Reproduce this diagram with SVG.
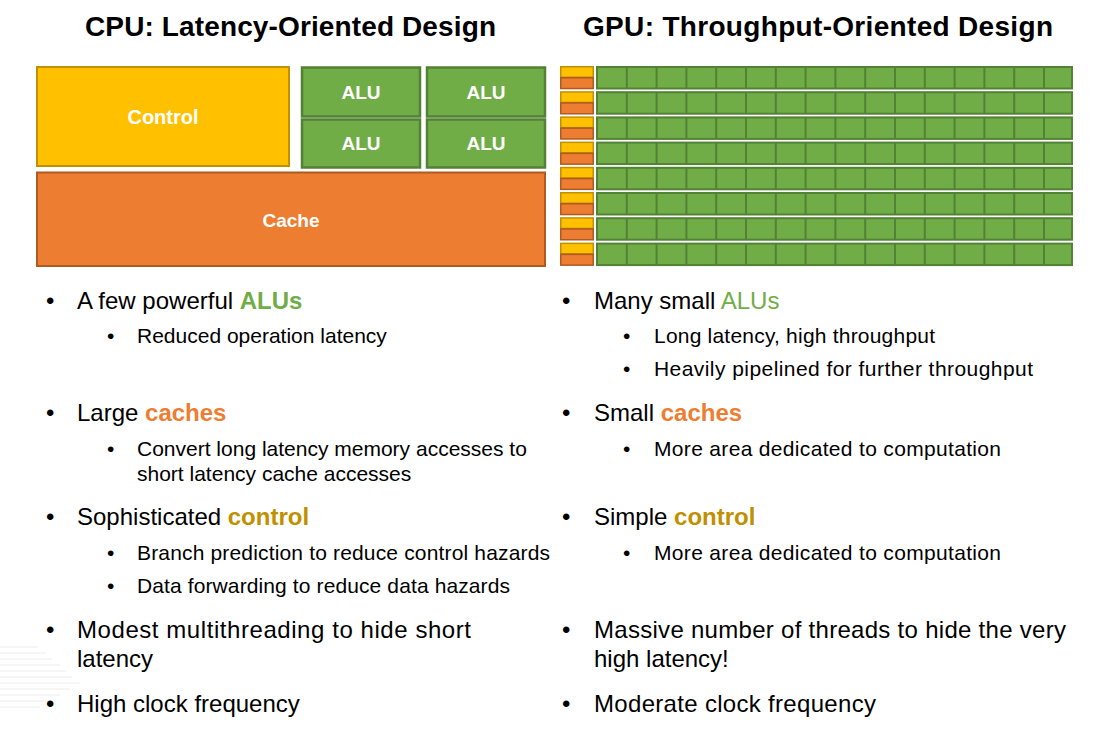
<svg xmlns="http://www.w3.org/2000/svg" xmlns:xlink="http://www.w3.org/1999/xlink" width="1107" height="733" viewBox="0 0 1107 733">
<style>
.t{font-family:"Liberation Sans",Arial,sans-serif;fill:#000}
.title{font-size:28px;font-weight:bold}
.main{font-size:24px}
.sub{font-size:21px}
.lbl{font-family:"Liberation Sans",Arial,sans-serif;font-weight:bold;fill:#fff;text-anchor:middle}
.ctl{fill:#FFC000;stroke:#BF9000;stroke-width:2}
.alu{fill:#70AD47;stroke:#538135;stroke-width:2.5}
.cache{fill:#ED7D31;stroke:#AE5A21;stroke-width:2}
.g{fill:#70AD47}
.o{fill:#ED7D31}
.y{fill:#BF9000}
.b{font-weight:bold}
.deco{stroke:#ececec;stroke-width:1}
</style>
<defs>
<g id="gpurow">
<rect x="560.75" y="0.75" width="32.5" height="10.5" fill="#FFC000" stroke="#BF9000" stroke-width="1.5"/>
<rect x="560.75" y="11.75" width="32.5" height="10.8" fill="#ED7D31" stroke="#AE5A21" stroke-width="1.5"/>
<rect x="597" y="1" width="475" height="21.5" fill="#70AD47" stroke="#538135" stroke-width="2"/>
<path d="M626.8 1v21.5M656.6 1v21.5M686.4 1v21.5M716.2 1v21.5M746 1v21.5M775.8 1v21.5M805.6 1v21.5M835.4 1v21.5M865.2 1v21.5M895 1v21.5M924.8 1v21.5M954.6 1v21.5M984.4 1v21.5M1014.2 1v21.5M1044 1v21.5" stroke="#538135" stroke-width="2" fill="none"/>
</g>
</defs>
<rect width="1107" height="733" fill="#fff"/>
<g id="decoration">
<path class="deco" d="M0 647h38M0 653h46M0 659h52M0 665h60M0 671h66M0 677h72M0 683h80M0 689h70M0 695h60M0 701h50M0 707h40"/>
</g>
<text class="t title" x="85" y="36" textLength="411" lengthAdjust="spacing">CPU: Latency-Oriented Design</text>
<text class="t title" x="583" y="36" textLength="470" lengthAdjust="spacing">GPU: Throughput-Oriented Design</text>
<g id="cpu-control">
<rect class="ctl" x="37" y="67" width="252" height="99"/>
<text class="lbl" x="163" y="124" font-size="20">Control</text>
</g>
<g id="cpu-alu1">
<rect class="alu" x="302" y="67.5" width="118" height="49"/>
<text class="lbl" x="361" y="99" font-size="19">ALU</text>
</g>
<g id="cpu-alu2">
<rect class="alu" x="427" y="67.5" width="118" height="49"/>
<text class="lbl" x="486" y="99" font-size="19">ALU</text>
</g>
<g id="cpu-alu3">
<rect class="alu" x="302" y="119.5" width="118" height="48"/>
<text class="lbl" x="361" y="150" font-size="19">ALU</text>
</g>
<g id="cpu-alu4">
<rect class="alu" x="427" y="119.5" width="118" height="48"/>
<text class="lbl" x="486" y="150" font-size="19">ALU</text>
</g>
<g id="cpu-cache">
<rect class="cache" x="37" y="172.5" width="508" height="93.5"/>
<text class="lbl" x="291" y="227" font-size="19">Cache</text>
</g>
<g id="gpu-grid">
<use xlink:href="#gpurow" y="66"/>
<use xlink:href="#gpurow" y="91.2"/>
<use xlink:href="#gpurow" y="116.4"/>
<use xlink:href="#gpurow" y="141.6"/>
<use xlink:href="#gpurow" y="166.8"/>
<use xlink:href="#gpurow" y="192"/>
<use xlink:href="#gpurow" y="217.2"/>
<use xlink:href="#gpurow" y="242.6"/>
</g>
<g id="cpu-text">
<text class="t main" x="46" y="309">•</text>
<text class="t main" x="77" y="309">A few powerful <tspan class="g b">ALUs</tspan></text>
<text class="t sub" x="107" y="343">•</text>
<text class="t sub" x="137" y="343">Reduced operation latency</text>
<text class="t main" x="46" y="421">•</text>
<text class="t main" x="77" y="421">Large <tspan class="o b">caches</tspan></text>
<text class="t sub" x="107" y="456">•</text>
<text class="t sub" x="137" y="456">Convert long latency memory accesses to</text>
<text class="t sub" x="137" y="481">short latency cache accesses</text>
<text class="t main" x="46" y="525">•</text>
<text class="t main" x="77" y="525">Sophisticated <tspan class="y b">control</tspan></text>
<text class="t sub" x="107" y="560">•</text>
<text class="t sub" x="137" y="560" textLength="413" lengthAdjust="spacing">Branch prediction to reduce control hazards</text>
<text class="t sub" x="107" y="593">•</text>
<text class="t sub" x="137" y="593" textLength="373" lengthAdjust="spacing">Data forwarding to reduce data hazards</text>
<text class="t main" x="46" y="638">•</text>
<text class="t main" x="77" y="638" textLength="394" lengthAdjust="spacing">Modest multithreading to hide short</text>
<text class="t main" x="77" y="667">latency</text>
<text class="t main" x="46" y="712">•</text>
<text class="t main" x="77" y="712">High clock frequency</text>
</g>
<g id="gpu-text">
<text class="t main" x="562" y="309">•</text>
<text class="t main" x="594" y="309">Many small <tspan class="g">ALUs</tspan></text>
<text class="t sub" x="623" y="343">•</text>
<text class="t sub" x="654" y="343" textLength="281" lengthAdjust="spacing">Long latency, high throughput</text>
<text class="t sub" x="623" y="376">•</text>
<text class="t sub" x="654" y="376" textLength="379" lengthAdjust="spacing">Heavily pipelined for further throughput</text>
<text class="t main" x="562" y="421">•</text>
<text class="t main" x="594" y="421">Small <tspan class="o b">caches</tspan></text>
<text class="t sub" x="623" y="456">•</text>
<text class="t sub" x="654" y="456" textLength="347" lengthAdjust="spacing">More area dedicated to computation</text>
<text class="t main" x="562" y="525">•</text>
<text class="t main" x="594" y="525">Simple <tspan class="y b">control</tspan></text>
<text class="t sub" x="623" y="560">•</text>
<text class="t sub" x="654" y="560" textLength="347" lengthAdjust="spacing">More area dedicated to computation</text>
<text class="t main" x="562" y="638">•</text>
<text class="t main" x="594" y="638" textLength="472" lengthAdjust="spacing">Massive number of threads to hide the very</text>
<text class="t main" x="594" y="667">high latency!</text>
<text class="t main" x="562" y="712">•</text>
<text class="t main" x="594" y="712" textLength="282" lengthAdjust="spacing">Moderate clock frequency</text>
</g>
</svg>
